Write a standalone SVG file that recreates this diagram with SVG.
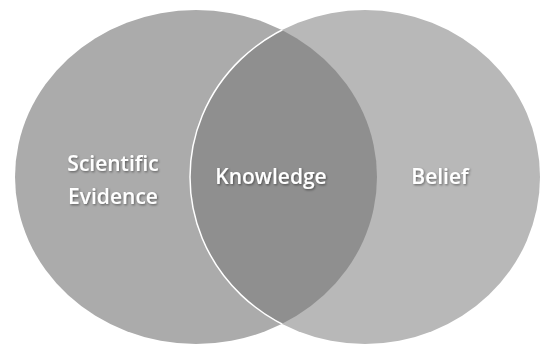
<svg xmlns="http://www.w3.org/2000/svg" width="541" height="346" viewBox="0 0 541 346">
<style>
.lbl{font-family:"Open Sans","Liberation Sans",sans-serif;font-size:21px;font-weight:600;fill:#ffffff;text-anchor:middle;filter:url(#sh)}
</style>
<defs>
<filter id="sh" x="-20%" y="-30%" width="140%" height="160%">
<feDropShadow dx="1" dy="1.2" stdDeviation="0.9" flood-color="#000" flood-opacity="0.45"/>
</filter>
<clipPath id="leftClip"><ellipse cx="196" cy="177" rx="181" ry="167"/></clipPath>
</defs>
<rect width="541" height="346" fill="#ffffff"/>
<g id="evidence">
<ellipse cx="196" cy="177" rx="181" ry="167" fill="#ababab"/>
</g>
<g id="belief">
<ellipse cx="365" cy="177" rx="175" ry="167" fill="#b8b8b8"/>
</g>
<g id="knowledge">
<ellipse cx="365" cy="177" rx="175" ry="167" fill="#8f8f8f" clip-path="url(#leftClip)"/>
<ellipse cx="365" cy="177" rx="175" ry="167" fill="none" stroke="#ffffff" stroke-width="1.5" clip-path="url(#leftClip)"/>
</g>
<g id="labels">
<text class="lbl" x="113" y="171">Scientific</text>
<text class="lbl" x="113" y="204">Evidence</text>
<text class="lbl" x="271" y="184">Knowledge</text>
<text class="lbl" x="440" y="184">Belief</text>
</g>
<g id="connectors"></g>
</svg>
